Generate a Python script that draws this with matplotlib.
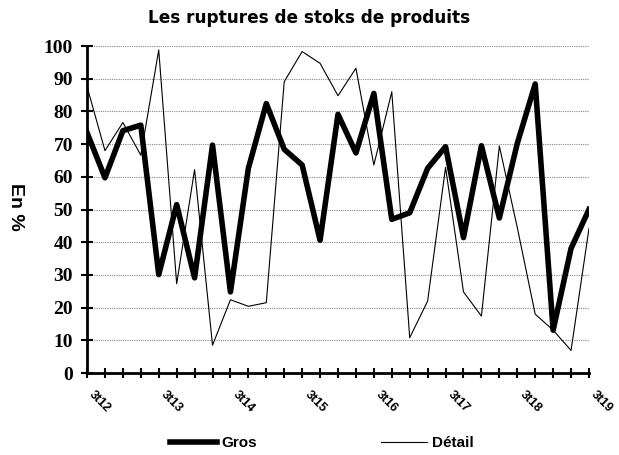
import matplotlib
matplotlib.use("Agg")
import matplotlib.pyplot as plt
import numpy as np

# quarterly series, 3t12 .. 3t19
quarters = ["3t12", "3t13", "3t14", "3t15", "3t16", "3t17", "3t18", "3t19"]
gros = [73.5, 59.7, 74.1, 75.8, 30.1, 51.5, 29.1, 69.7, 24.8, 62.6,
        82.4, 68.4, 63.6, 40.6, 79.1, 67.3, 85.5, 47.0, 49.0, 62.6,
        69.2, 41.4, 69.5, 47.4, 70.2, 88.4, 13.1, 38.1, 50.0]
detail = [87.6, 68.0, 76.6, 66.6, 98.8, 27.3, 62.2, 8.5, 22.4, 20.4,
          21.5, 89.1, 98.3, 94.7, 84.8, 93.2, 63.6, 86.0, 10.8, 22.0,
          62.9, 24.8, 17.4, 69.4, 44.5, 18.0, 13.1, 6.9, 44.2]

x = np.arange(len(gros))

fig = plt.figure(figsize=(6.19, 4.55), dpi=100)
ax = fig.add_axes([0.1406, 0.1802, 0.8109, 0.7187])

ax.plot(x, gros, color="black", linewidth=4, label="Gros")
ax.plot(x, detail, color="black", linewidth=0.8, label="Détail")

ax.set_xlim(0, len(gros) - 1)
ax.set_ylim(0, 100)
ax.set_yticks(np.arange(0, 101, 10))
ax.set_yticklabels([str(v) for v in range(0, 101, 10)], fontfamily="Liberation Serif",
                   fontweight="bold", fontsize=14)
ax.set_xticks(x, minor=True)
ax.set_xticks(x[::4])
ax.set_xticklabels(quarters, rotation=-45, ha="left", va="top", rotation_mode="default",
                   fontfamily="Liberation Sans", fontweight="bold", fontsize=9)
ax.tick_params(axis="x", which="both", direction="inout", length=7, width=1.5, pad=8)
ax.tick_params(axis="y", direction="inout", length=8, width=1.5, pad=6)

ax.grid(axis="y", color="#888888", linestyle=(0, (1, 1)), linewidth=0.8)
for s in ["top", "right"]:
    ax.spines[s].set_visible(False)
for s in ["left", "bottom"]:
    ax.spines[s].set_linewidth(2)

fig.text(0.5, 1 - 18 / 455, "Les ruptures de stoks de produits", ha="center", va="center",
         fontfamily="DejaVu Sans", fontweight="bold", fontsize=12.2)
fig.text(0.025, 0.545, "En %", rotation=-90, ha="center", va="center",
         fontfamily="Liberation Sans", fontweight="bold", fontsize=14)

fig.legend(loc="center", bbox_to_anchor=(0.52, 1 - 443 / 455), ncol=2, frameon=False,
           prop={"family": "Liberation Sans", "weight": "bold", "size": 11},
           handlelength=3.05, handletextpad=0.3, columnspacing=8.1)

fig.savefig("out.png", dpi=100)
